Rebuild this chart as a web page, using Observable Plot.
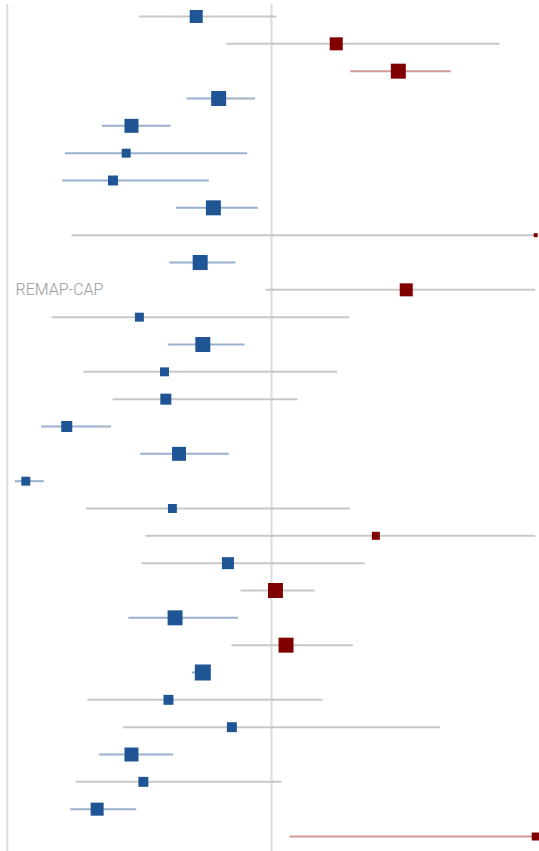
<!DOCTYPE html>
<html>
<head>
<meta charset="utf-8">
<script src="https://cdn.jsdelivr.net/npm/d3@7"></script>
<script src="https://cdn.jsdelivr.net/npm/@observablehq/plot@0.6"></script>
<style>
  html, body { margin: 0; padding: 0; background: #fff; }
  #chart svg { display: block; }
</style>
</head>
<body>
<div id="chart"></div>
<script>
// Study rows, top to bottom
const rows = d3.range(1, 32);

// Effect estimates (log scale, 0 = no effect) with 95% interval bounds
const estimate = [-0.57, 0.49, 0.96, -0.40, -1.06, -1.10, -1.20, -0.44, 2.40, -0.54,
                  1.02, -1.00, -0.52, -0.81, -0.80, -1.55, -0.70, -1.86, -0.75, 0.79,
                  -0.33, 0.03, -0.73, 0.11, -0.52, -0.78, -0.30, -1.06, -0.97, -1.32, 2.30];
const lower    = [-1.00, -0.34, 0.60, -0.64, -1.28, -1.56, -1.58, -0.72, -1.51, -0.77,
                  -0.04, -1.66, -0.78, -1.42, -1.20, -1.74, -0.99, -1.94, -1.40, -0.95,
                  -0.98, -0.23, -1.08, -0.30, -0.60, -1.39, -1.12, -1.30, -1.48, -1.52, 0.14];
const upper    = [0.04, 1.73, 1.36, -0.12, -0.76, -0.18, -0.47, -0.10, 3.50, -0.27,
                  2.00, 0.59, -0.20, 0.50, 0.20, -1.21, -0.32, -1.72, 0.60, 2.60,
                  0.71, 0.33, -0.25, 0.62, -0.46, 0.39, 1.28, -0.74, 0.08, -1.02, 3.20];
// Relative study weights (%), shown as marker area
const weight   = [5.3, 5.3, 7.0, 7.0, 6.1, 2.5, 3.1, 7.0, 0.5, 7.0,
                  5.3, 2.5, 7.0, 2.5, 3.8, 3.8, 6.1, 2.5, 2.5, 2.0,
                  4.5, 7.0, 7.0, 7.0, 8.0, 3.1, 3.1, 6.1, 3.1, 5.3, 2.0];
// Highlighted trial label
const labels = {11: "REMAP-CAP"};

const data = rows.map((row, i) => ({
  row,
  estimate: estimate[i],
  lower: lower[i],
  upper: upper[i],
  weight: weight[i],
  label: labels[row] ?? null
}));

const significant = d => d.upper < 0 || d.lower > 0;
const lineColor = d => !significant(d) ? "#c8c8c8" : (d.estimate < 0 ? "#9ab1ce" : "#d29898");
const pointColor = d => d.estimate < 0 ? "#1f5594" : "#800000";

const chart = Plot.plot({
  width: 539,
  height: 851,
  marginTop: 16,
  marginBottom: 15,
  marginLeft: 0,
  marginRight: 0,
  x: {domain: [-2, 2], range: [6.8, 535.2], clamp: true, axis: null},
  y: {type: "point", domain: rows, padding: 0, round: false, axis: null},
  r: {type: "sqrt", domain: [0, 8], range: [0, 9.03]},
  marks: [
    // reference lines at the axis minimum and at no effect, running past the first and last rows
    Plot.ruleX([-2, 0], {stroke: "#dcdcdc", strokeWidth: 2, insetTop: -12, insetBottom: -15}),
    Plot.ruleY(data, {y: "row", x1: "lower", x2: "upper", stroke: lineColor, strokeWidth: 2}),
    Plot.dot(data, {x: "estimate", y: "row", r: "weight", symbol: "square", fill: pointColor, stroke: "none"}),
    Plot.text(data.filter(d => d.label), {
      y: "row", text: "label", frameAnchor: "left", dx: 15, textAnchor: "start",
      fill: "#9a9a9a", fontSize: 16, fontWeight: 300, fontFamily: "Roboto"
    })
  ]
});

document.getElementById("chart").appendChild(chart);
</script>
</body>
</html>
